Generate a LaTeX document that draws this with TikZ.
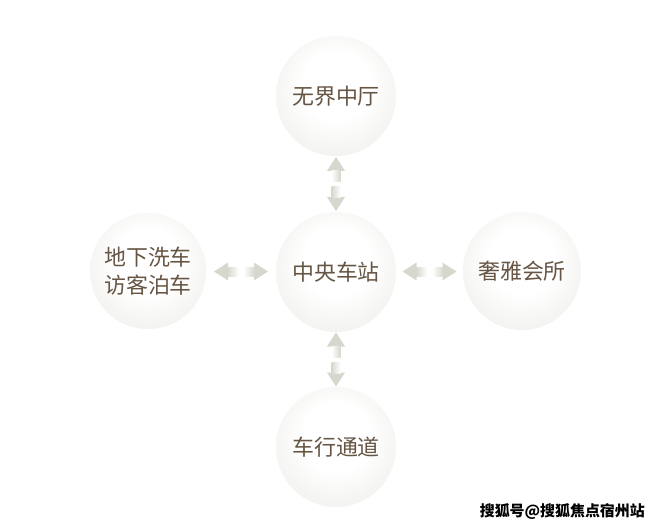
\documentclass[tikz,border=0pt]{standalone}
\usepackage{fontspec}
\newfontfamily\cjk{Noto Sans CJK SC}
\usetikzlibrary{calc}
\definecolor{txtc}{HTML}{665544}
\definecolor{arrowc}{HTML}{D6D8CD}
\definecolor{edgec}{HTML}{DAD7D0}
\definecolor{midc}{HTML}{EEEDE9}
\pgfdeclareradialshading{softball}{\pgfpoint{0bp}{6bp}}{color(0bp)=(white); color(14bp)=(white); color(34bp)=(midc); color(50bp)=(edgec)}
\tikzset{
  bubble/.style={circle, minimum size=120bp, inner sep=0pt, shading=softball,
    text=txtc, font=\cjk\fontsize{22}{28}\selectfont, align=center},
  dblarrow/.pic={
    \fill[arrowc] (-27,0) -- (-13,9) -- (-13,-9) -- cycle;
    \fill[arrowc] (27,0) -- (13,9) -- (13,-9) -- cycle;
    \shade[left color=arrowc, right color=white] (-13.5,-4.5) rectangle (-2.5,4.5);
    \shade[left color=white, right color=arrowc] (2.5,-4.5) rectangle (13.5,4.5);
  },
  wmark/.style={font=\cjk\bfseries\fontsize{15}{15}\selectfont, text=black, inner sep=0pt}
}
\begin{document}
\begin{tikzpicture}[x=1bp, y=-1bp]
\useasboundingbox[fill=white] (0,0) rectangle (660,527);
\node[bubble] (T) at (336,96) {无界中厅};
\node[bubble] (C) at (336,272) {中央车站};
\node[bubble, minimum size=116bp] (L) at (148,271) {地下洗车\\访客泊车};
\node[bubble, minimum size=118bp] (R) at (522,271) {奢雅会所};
\node[bubble] (B) at (336,447) {车行通道};
\pic[rotate=90] at ($(T.south)!0.5!(C.north)$) {dblarrow};
\pic[rotate=90] at ($(C.south)!0.5!(B.north)$) {dblarrow};
\pic at ($(L.east)!0.5!(C.west)$) {dblarrow};
\pic at ($(C.east)!0.5!(R.west)$) {dblarrow};
\node[wmark, anchor=east] (W) at (645,512) {搜狐号@搜狐焦点宿州站};
\end{tikzpicture}
\end{document}
